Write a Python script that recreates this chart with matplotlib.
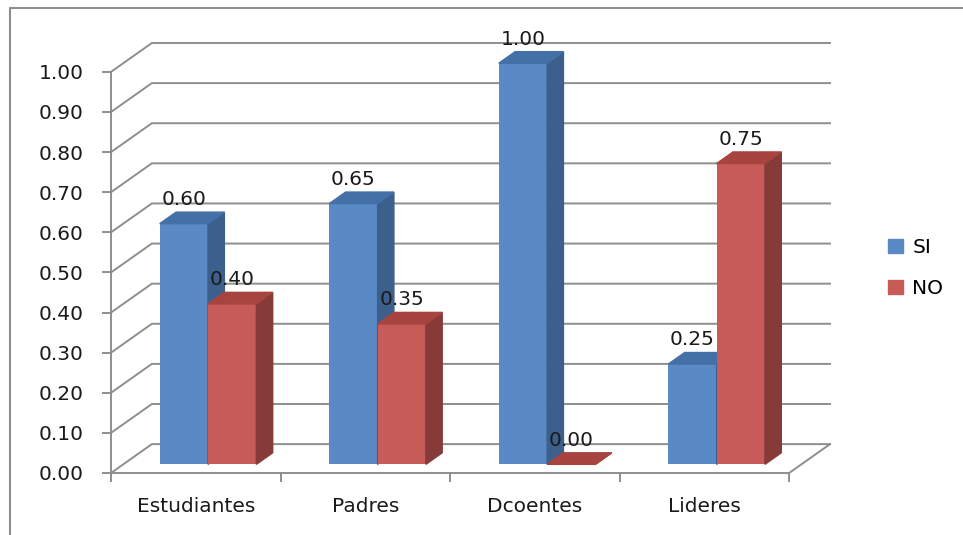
import numpy as np
import matplotlib.pyplot as plt
from matplotlib.lines import Line2D
from matplotlib.patches import Patch

categorias = ['Estudiantes', 'Padres', 'Dcoentes', 'Lideres']
si = [0.60, 0.65, 1.00, 0.25]
no = [0.40, 0.35, 0.00, 0.75]
series = ['SI', 'NO']
yticks = np.arange(0, 1.01, 0.1)

plt.rcParams['font.family'] = ['DejaVu Sans']

# frente, lado, tapa
azul = ('#5A8AC6', '#3C5F8C', '#4470A8')
rojo = ('#C75B57', '#873B39', '#A8443F')
gris = '#8e8e8e'

# desplazamiento de profundidad (falso 3d)
DX, DY = 0.241, 0.072
d0, d1 = 0.3, 0.7
w = 0.285
fs = 14.5

fig = plt.figure(figsize=(9.63, 5.35), dpi=100)
ax = fig.add_axes([111/963, 1-473/535, (830-111)/963, (473-43)/535])
ax.set_xlim(-0.5, 3.5+DX)
ax.set_ylim(0, 1+DY)

# rejilla de fondo
for v in yticks:
    ax.plot([-0.5, -0.5+DX, 3.5+DX], [v, v+DY, v+DY], color=gris, lw=1.4, zorder=1, clip_on=False)
ax.plot([3.5, 3.5+DX], [0, DY], color=gris, lw=1.4, zorder=1, clip_on=False)

sdx = (d1-d0)*DX
sdy = (d1-d0)*DY
for i, (a, b) in enumerate(zip(si, no)):
    for x0, v, col in [(i-w, a, azul), (i, b, rojo)]:
        fx = x0 + d0*DX
        fy = d0*DY
        ax.bar(fx, v, width=w, bottom=fy, align='edge', color=col[0], zorder=3)
        ax.fill([fx+w, fx+w+sdx, fx+w+sdx, fx+w], [fy, fy+sdy, fy+v+sdy, fy+v], color=col[1], zorder=3)
        ax.fill([fx, fx+sdx, fx+w+sdx, fx+w], [fy+v, fy+v+sdy, fy+v+sdy, fy+v], color=col[2], zorder=3)
        ax.text(fx+w/2, fy+v+0.06, f'{v:.2f}', ha='center', va='center', fontsize=fs, color='#1a1a1a', zorder=5)

for s in ['top', 'right']:
    ax.spines[s].set_visible(False)
for s in ['left', 'bottom']:
    ax.spines[s].set_color(gris)
    ax.spines[s].set_linewidth(1.4)
ax.spines['left'].set_bounds(0, 1)
ax.spines['bottom'].set_bounds(-0.5, 3.5)

ax.set_yticks(yticks)
ax.set_yticklabels([f'{v:.2f}' for v in yticks])
ax.set_xticks(np.arange(-0.5, 4, 1))
ax.set_xticklabels([])
ax.set_xticks(range(4), minor=True)
ax.set_xticklabels(categorias, minor=True)
ax.tick_params(axis='both', which='major', length=6.5, width=1.4, color=gris, labelsize=fs, labelcolor='#1a1a1a')
ax.tick_params(axis='y', pad=13)
ax.tick_params(axis='x', which='minor', length=0, pad=17, labelsize=fs, labelcolor='#1a1a1a')
ax.patch.set_visible(False)

handles = [Patch(color=azul[0]), Patch(color=rojo[0])]
fig.legend(handles, series, loc='center left', bbox_to_anchor=(870/963, 1-268/535), frameon=False,
           fontsize=fs, handlelength=0.75, handleheight=0.75, handletextpad=0.45, labelspacing=1.1)

# marco
fig.add_artist(Line2D([10/963, 10/963, 1], [0, 1-8/535, 1-8/535], transform=fig.transFigure, color=gris, lw=1.5))

fig.savefig('out.png', dpi=100)
